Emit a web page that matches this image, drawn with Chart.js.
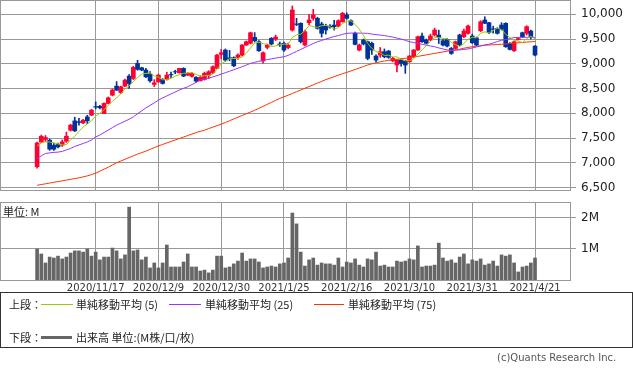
<!DOCTYPE html>
<html>
<head>
<meta charset="utf-8">
<script src="https://cdn.jsdelivr.net/npm/chart.js@4.4.1/dist/chart.umd.min.js"></script>
<style>
body { margin: 0; background: #fff; }
#wrap { position: relative; width: 633px; height: 371px; overflow: hidden; font-family: "DejaVu Sans", sans-serif; }
#price { position: absolute; left: 0; top: 0; }
#vol { position: absolute; left: 0; top: 196px; }
#unit { position: absolute; left: 3px; top: 203px; font: 11px "Noto Sans CJK JP", sans-serif; color: #222; }
#legend { position: absolute; left: 0; top: 292px; width: 631px; height: 54px; border: 1px solid #333; }
.t { position: absolute; font: 11px "Noto Sans CJK JP", sans-serif; color: #222; line-height: 14px; white-space: nowrap; }
.sw { position: absolute; height: 1px; }
#copy { position: absolute; left: 497px; top: 352px; font: 10px "DejaVu Sans", sans-serif; color: #555; }
</style>
</head>
<body>
<div id="wrap">
  <canvas id="price" width="633" height="196"></canvas>
  <canvas id="vol" width="633" height="106"></canvas>
  <div id="unit">単位: M</div>
  <div id="legend">
    <div class="t" style="left:8px;top:4px">上段：</div>
    <div class="sw" style="left:40px;top:11px;width:32px;background:#99cc00"></div>
    <div class="t" style="left:75px;top:4px">単純移動平均 (5)</div>
    <div class="sw" style="left:168px;top:11px;width:32px;background:#9933ff"></div>
    <div class="t" style="left:204px;top:4px">単純移動平均 (25)</div>
    <div class="sw" style="left:313px;top:11px;width:30px;background:#ff3300"></div>
    <div class="t" style="left:347px;top:4px">単純移動平均 (75)</div>
    <div class="t" style="left:8px;top:37px">下段：</div>
    <div class="sw" style="left:40px;top:43px;width:31px;height:3px;background:#666"></div>
    <div class="t" style="left:75px;top:37px">出来高 単位:(M株/口/枚)</div>
  </div>
  <div id="copy">(c)Quants Research Inc.</div>
</div>
<script>
// daily prices, oldest first
var opens = [6920,7420,7470,7456,7355,7369,7355,7435,7658,7846,
  7830,7806,7927,7962,8135,8140,7996,8199,8366,8549,
  8420,8549,8751,8705,9008,8920,8873,8792,8583,8636,
  8684,8684,8785,8842,8818,8907,8771,8745,8725,8656,
  8684,8770,8818,8907,9190,9277,9120,9123,9130,9176,
  9379,9413,9534,9446,9055,9332,9514,9500,9400,9413,
  9325,9680,9805,9818,9379,9830,9919,9919,9804,9763,
  9760,9783,9763,9850,9986,9870,9615,9277,9480,9446,
  9413,9156,9176,9243,9257,9061,8974,9075,9055,9041,
  9142,9277,9561,9480,9480,9581,9581,9466,9494,9310,
  9310,9581,9547,9615,9561,9527,9668,9885,9830,9705,
  9717,9783,9818,9413,9263,9490,9628,9615,9662,9358];
var highs = [7420,7560,7550,7480,7400,7400,7460,7620,7780,7920,
  7900,7880,7960,8080,8230,8160,8210,8330,8490,8640,
  8550,8690,8780,8950,9070,8930,8910,8840,8680,8790,
  8700,8830,8830,8870,8910,8920,8820,8820,8740,8760,
  8830,8860,8960,9190,9290,9300,9270,9140,9200,9390,
  9460,9640,9630,9470,9240,9400,9530,9580,9440,9440,
  9420,10168,9920,9830,9680,10000,10100,9940,9840,9800,
  9790,9880,9890,10040,10030,9890,9640,9400,9500,9460,
  9440,9180,9330,9300,9270,9130,9090,9100,9070,9170,
  9290,9560,9620,9500,9600,9720,9680,9490,9510,9330,
  9460,9600,9700,9780,9600,9540,9870,9950,9840,9760,
  9730,9830,9830,9430,9460,9530,9640,9770,9680,9370];
var lows = [6890,7410,7430,7250,7250,7300,7330,7410,7640,7630,
  7760,7790,7790,7950,8090,8090,7990,8190,8350,8460,
  8400,8540,8500,8680,8870,8860,8720,8630,8540,8620,
  8590,8670,8720,8800,8810,8740,8760,8730,8630,8650,
  8670,8700,8800,8900,9100,9050,9060,8940,9090,9160,
  9370,9400,9440,9250,9010,9300,9380,9470,9350,9250,
  9300,9660,9770,9420,9360,9790,9880,9700,9540,9600,
  9720,9680,9750,9840,9900,9770,9380,9260,9380,9080,
  9190,9040,9130,9120,9110,9040,8838,8950,8806,9030,
  9130,9270,9430,9400,9470,9560,9410,9360,9340,9190,
  9290,9360,9530,9600,9410,9360,9650,9810,9610,9620,
  9600,9680,9330,9280,9250,9480,9530,9580,9500,9160];
var closes = [7400,7535,7510,7275,7274,7320,7421,7537,7760,7644,
  7815,7860,7846,8063,8125,8110,8199,8312,8468,8468,
  8535,8670,8603,8927,8887,8873,8737,8656,8616,8771,
  8603,8771,8775,8834,8907,8751,8806,8806,8650,8725,
  8806,8840,8940,9176,9223,9075,9100,8960,9176,9379,
  9446,9628,9466,9263,9223,9379,9399,9540,9385,9277,
  9379,10087,9795,9446,9649,9885,9986,9717,9615,9682,
  9740,9750,9870,10020,9919,9783,9392,9379,9400,9109,
  9277,9075,9243,9142,9130,9109,9075,9008,8974,9156,
  9277,9547,9446,9413,9561,9682,9534,9379,9358,9210,
  9446,9379,9662,9763,9426,9379,9850,9818,9628,9695,
  9615,9696,9345,9290,9446,9510,9547,9750,9534,9176];

// moving averages as drawn
var ma5 = [7340,7400,7420,7420,7399,7383,7360,7365,7462,7536,
  7635,7723,7785,7846,7942,8001,8069,8162,8243,8311,
  8396,8491,8549,8641,8724,8792,8805,8816,8754,8731,
  8677,8683,8707,8751,8778,8808,8815,8821,8784,8748,
  8759,8765,8792,8897,8997,9051,9103,9107,9107,9138,
  9212,9318,9419,9436,9405,9392,9346,9361,9385,9396,
  9396,9534,9585,9597,9671,9772,9752,9737,9770,9777,
  9748,9701,9731,9812,9860,9868,9797,9699,9575,9413,
  9311,9248,9221,9169,9173,9140,9140,9093,9059,9064,
  9098,9192,9280,9368,9449,9530,9527,9514,9503,9433,
  9385,9354,9411,9492,9535,9522,9616,9647,9620,9674,
  9721,9690,9596,9528,9478,9457,9428,9509,9557,9503];
var ma25 = [7085,7140,7187,7200,7210,7215,7230,7260,7290,7330,
  7360,7390,7420,7460,7523,7560,7610,7660,7710,7760,
  7800,7840,7880,7927,7990,8050,8110,8160,8210,8265,
  8310,8350,8390,8430,8470,8505,8535,8580,8625,8670,
  8690,8710,8735,8760,8792,8820,8850,8880,8910,8940,
  8975,9008,9030,9050,9070,9085,9100,9115,9130,9142,
  9170,9210,9250,9290,9330,9370,9410,9446,9470,9500,
  9525,9550,9570,9595,9615,9620,9622,9620,9618,9615,
  9600,9590,9580,9570,9555,9540,9520,9500,9475,9446,
  9430,9410,9395,9375,9360,9345,9320,9300,9280,9277,
  9278,9280,9290,9300,9320,9340,9360,9380,9395,9420,
  9450,9475,9490,9510,9530,9534,9535,9535,9534,9534];
var ma75 = [6545,6560,6575,6590,6605,6620,6635,6650,6665,6680,
  6695,6715,6735,6760,6790,6830,6870,6910,6955,7000,
  7035,7070,7105,7140,7175,7205,7235,7270,7305,7340,
  7370,7400,7430,7460,7490,7520,7550,7580,7610,7635,
  7658,7690,7720,7750,7780,7815,7850,7885,7920,7955,
  7990,8025,8060,8100,8140,8180,8220,8260,8300,8332,
  8365,8400,8435,8470,8505,8540,8575,8610,8645,8680,
  8710,8740,8770,8800,8825,8855,8885,8915,8945,8975,
  9000,9020,9040,9055,9070,9080,9090,9100,9110,9120,
  9135,9150,9165,9180,9195,9210,9225,9240,9255,9265,
  9277,9295,9315,9330,9345,9355,9365,9375,9380,9385,
  9390,9395,9400,9410,9420,9425,9430,9438,9445,9450];

// volume, millions
var volumes = [1.0,0.84,0.55,0.74,0.71,0.77,0.68,0.74,0.87,0.94,
  0.94,0.9,1.0,0.77,0.9,0.65,0.74,0.74,1.03,0.94,
  0.68,0.81,2.35,0.94,0.97,0.65,0.74,0.39,0.55,0.39,
  0.55,1.13,0.42,0.42,0.42,0.58,0.84,0.42,0.42,0.29,
  0.32,0.23,0.32,0.77,0.77,0.39,0.42,0.52,0.61,0.87,
  0.61,0.68,0.68,0.58,0.39,0.42,0.45,0.42,0.52,0.55,
  0.71,2.16,1.81,0.9,0.45,0.65,0.71,0.48,0.55,0.52,
  0.52,0.48,0.71,0.42,0.58,0.55,0.68,0.48,0.42,0.68,
  0.65,0.9,0.45,0.48,0.42,0.42,0.61,0.58,0.61,0.68,
  0.65,1.1,0.42,0.45,0.45,0.48,1.19,0.71,0.61,0.65,
  0.55,0.74,0.84,0.52,0.65,0.61,0.68,0.48,0.52,0.61,
  0.45,0.81,0.77,0.81,0.55,0.26,0.42,0.45,0.55,0.71];

var tickIndex = [14, 29, 44, 59, 74, 89, 104, 119];
var tickLabels = ['2020/11/17', '2020/12/9', '2020/12/30', '2021/1/25', '2021/2/16', '2021/3/10', '2021/3/31', '2021/4/21'];
var priceTicks = [6500, 7000, 7500, 8000, 8500, 9000, 9500, 10000];
var volTicks = [1, 2];

var upColor = '#ff0033';
var downColor = '#003399';
var gridColor = '#999999';
var xMin = -8.87, xMax = 127.6;

var candleColors = closes.map(function(c, i){ return c >= opens[i] ? upColor : downColor; });
function pts(arr){ return arr.map(function(v, i){ return {x: i, y: v}; }); }

// frame round the plot area
var framePlugin = {
  id: 'frame',
  afterDraw: function(chart){
    var a = chart.chartArea, ctx = chart.ctx;
    ctx.save();
    ctx.strokeStyle = gridColor;
    ctx.lineWidth = 1;
    ctx.strokeRect(a.left + 0.5, a.top + 0.5, a.right - a.left - 1, a.bottom - a.top);
    ctx.restore();
  }
};

function xAxis(showLabels){
  return {
    type: 'linear', min: xMin, max: xMax, offset: false,
    grid: { color: gridColor, lineWidth: 1, drawTicks: false, offset: false },
    border: { display: false },
    ticks: {
      display: showLabels, autoSkip: false, maxRotation: 0, padding: 2,
      color: '#333', font: { family: 'DejaVu Sans', size: 10 },
      callback: function(v){ var k = tickIndex.indexOf(v); return k < 0 ? '' : tickLabels[k]; }
    },
    afterBuildTicks: function(s){ s.ticks = tickIndex.map(function(v){ return {value: v}; }); },
    afterFit: function(s){ s.height = showLabels ? 22 : 0; s.paddingLeft = 0; s.paddingRight = 0; }
  };
}

function yAxis(min, max, ticks, fmt){
  return {
    position: 'right', min: min, max: max,
    grid: { color: gridColor, lineWidth: 1, tickLength: 5 },
    border: { display: false },
    ticks: { padding: 5, color: '#222', font: { family: 'DejaVu Sans', size: 12 }, callback: fmt },
    afterBuildTicks: function(s){ s.ticks = ticks.map(function(v){ return {value: v}; }); },
    afterFit: function(s){ s.width = 62; s.paddingTop = 0; s.paddingBottom = 0; }
  };
}

new Chart(document.getElementById('price'), {
  type: 'bar',
  data: {
    datasets: [
      { type: 'line', data: pts(ma5), borderColor: '#99cc00', borderWidth: 1, pointRadius: 0, order: 0 },
      { type: 'line', data: pts(ma25), borderColor: '#9933ff', borderWidth: 1, pointRadius: 0, order: 0 },
      { type: 'line', data: pts(ma75), borderColor: '#ff3300', borderWidth: 1, pointRadius: 0, order: 0 },
      { data: lows.map(function(l, i){ return {x: i, y: [l, highs[i]]}; }),
        backgroundColor: candleColors, barThickness: 1, grouped: false, order: 2 },
      { data: opens.map(function(o, i){ return {x: i, y: [o, closes[i]]}; }),
        backgroundColor: candleColors, barThickness: 4, grouped: false, order: 1 }
    ]
  },
  options: {
    responsive: false, animation: false,
    layout: { padding: { left: 0, right: 0, top: 0, bottom: 6 } },
    plugins: { legend: { display: false }, tooltip: { enabled: false } },
    scales: {
      x: xAxis(false),
      y: yAxis(6449.5, 10289, priceTicks, function(v){ return v.toLocaleString('en-US'); })
    }
  },
  plugins: [framePlugin]
});

new Chart(document.getElementById('vol'), {
  type: 'bar',
  data: {
    datasets: [
      { data: volumes.map(function(v, i){ return {x: i, y: v}; }),
        backgroundColor: '#666666', barThickness: 3, grouped: false }
    ]
  },
  options: {
    responsive: false, animation: false,
    layout: { padding: { left: 0, right: 0, top: 6, bottom: 0 } },
    plugins: { legend: { display: false }, tooltip: { enabled: false } },
    scales: {
      x: xAxis(true),
      y: yAxis(0, 2.516, volTicks, function(v){ return v + 'M'; })
    }
  },
  plugins: [framePlugin]
});
</script>
</body>
</html>
